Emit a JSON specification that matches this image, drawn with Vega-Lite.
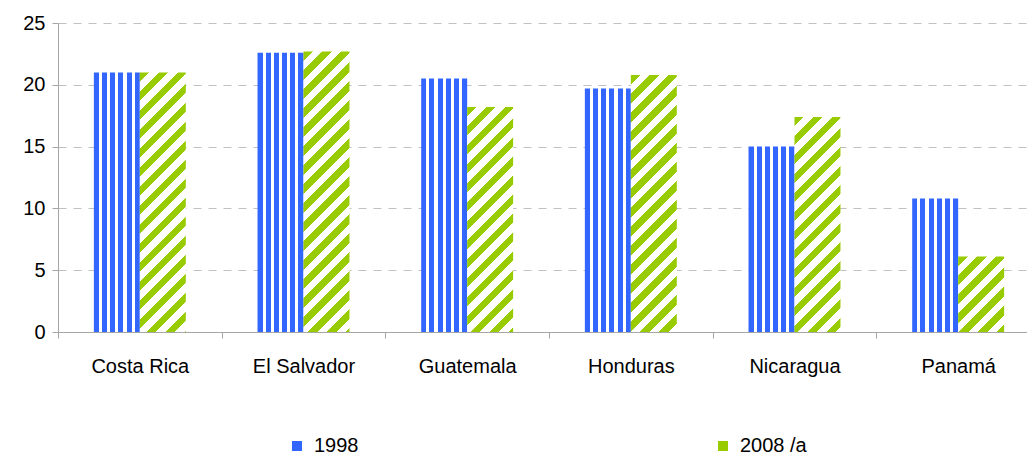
{
  "$schema": "https://vega.github.io/schema/vega-lite/v6.json",
  "width": 969,
  "height": 309,
  "autosize": {"type": "none"},
  "padding": {"left": 58, "top": 23, "right": 0, "bottom": 125},
  "background": "white",
  "config": {"view": {"stroke": null}, "font": "Liberation Sans"},
  "data": {
    "values": [
      {"country": "Costa Rica", "year": "1998", "value": 21.0},
      {"country": "Costa Rica", "year": "2008 /a", "value": 21.0},
      {"country": "El Salvador", "year": "1998", "value": 22.6},
      {"country": "El Salvador", "year": "2008 /a", "value": 22.7},
      {"country": "Guatemala", "year": "1998", "value": 20.5},
      {"country": "Guatemala", "year": "2008 /a", "value": 18.2},
      {"country": "Honduras", "year": "1998", "value": 19.7},
      {"country": "Honduras", "year": "2008 /a", "value": 20.8},
      {"country": "Nicaragua", "year": "1998", "value": 15.0},
      {"country": "Nicaragua", "year": "2008 /a", "value": 17.4},
      {"country": "Panamá", "year": "1998", "value": 10.8},
      {"country": "Panamá", "year": "2008 /a", "value": 6.1}
    ]
  },
  "mark": {"type": "bar"},
  "encoding": {
    "x": {
      "field": "country", "type": "nominal", "sort": null,
      "scale": {"range": [0, 982], "paddingInner": 0, "paddingOuter": 0},
      "axis": {"title": null, "labelAngle": 0, "tickBand": "extent", "labelFontSize": 20, "labelColor": "#000000", "labelPadding": 18, "domainColor": "#a6a6a6", "tickColor": "#a6a6a6", "tickSize": 6, "grid": false}
    },
    "xOffset": {"field": "year", "type": "nominal", "sort": ["1998", "2008 /a"], "scale": {"paddingInner": 0, "paddingOuter": 0.78}},
    "y": {
      "field": "value", "type": "quantitative",
      "scale": {"domain": [0, 25], "nice": false},
      "axis": {"title": null, "values": [0, 5, 10, 15, 20, 25], "grid": true, "gridDash": [8, 7], "gridColor": "#c0c0c0", "domainColor": "#a6a6a6", "tickColor": "#a6a6a6", "tickSize": 6, "labelFontSize": 20, "labelColor": "#000000", "labelPadding": 7}
    },
    "fill": {
      "field": "year", "type": "nominal",
      "scale": {"domain": ["1998", "2008 /a"], "range": ["#3366ff", "#99cc00"]},
      "legend": {"title": null, "orient": "none", "legendX": 229, "legendY": 413, "direction": "horizontal", "columns": 2, "columnPadding": 354, "symbolType": "square", "symbolSize": 100, "symbolStrokeWidth": 0, "labelFontSize": 20, "labelColor": "#000000", "labelOffset": 7},
      "condition": [
        {"test": "datum.year === '1998'", "value": {"gradient": "linear", "x1": 0, "y1": 0, "x2": 1, "y2": 0, "stops": [
          {"offset": 0, "color": "#3366ff"}, {"offset": 0.11, "color": "#3366ff"}, {"offset": 0.11, "color": "#ffffff"}, {"offset": 0.178, "color": "#ffffff"},
          {"offset": 0.178, "color": "#3366ff"}, {"offset": 0.288, "color": "#3366ff"}, {"offset": 0.288, "color": "#ffffff"}, {"offset": 0.356, "color": "#ffffff"},
          {"offset": 0.356, "color": "#3366ff"}, {"offset": 0.466, "color": "#3366ff"}, {"offset": 0.466, "color": "#ffffff"}, {"offset": 0.534, "color": "#ffffff"},
          {"offset": 0.534, "color": "#3366ff"}, {"offset": 0.644, "color": "#3366ff"}, {"offset": 0.644, "color": "#ffffff"}, {"offset": 0.712, "color": "#ffffff"},
          {"offset": 0.712, "color": "#3366ff"}, {"offset": 0.822, "color": "#3366ff"}, {"offset": 0.822, "color": "#ffffff"}, {"offset": 0.89, "color": "#ffffff"},
          {"offset": 0.89, "color": "#3366ff"}, {"offset": 1, "color": "#3366ff"}
        ]}},
        {"test": "datum.country === 'Costa Rica'", "value": {"gradient": "linear", "x1": 0, "y1": 0, "x2": 0.2264, "y2": 1.2775, "stops": [
          {"offset": 0, "color": "#99cc00"}, {"offset": 0.0278, "color": "#99cc00"}, {"offset": 0.0278, "color": "#ffffff"}, {"offset": 0.0556, "color": "#ffffff"},
          {"offset": 0.0556, "color": "#99cc00"}, {"offset": 0.0833, "color": "#99cc00"}, {"offset": 0.0833, "color": "#ffffff"}, {"offset": 0.1111, "color": "#ffffff"},
          {"offset": 0.1111, "color": "#99cc00"}, {"offset": 0.1389, "color": "#99cc00"}, {"offset": 0.1389, "color": "#ffffff"}, {"offset": 0.1667, "color": "#ffffff"},
          {"offset": 0.1667, "color": "#99cc00"}, {"offset": 0.1944, "color": "#99cc00"}, {"offset": 0.1944, "color": "#ffffff"}, {"offset": 0.2222, "color": "#ffffff"},
          {"offset": 0.2222, "color": "#99cc00"}, {"offset": 0.25, "color": "#99cc00"}, {"offset": 0.25, "color": "#ffffff"}, {"offset": 0.2778, "color": "#ffffff"},
          {"offset": 0.2778, "color": "#99cc00"}, {"offset": 0.3056, "color": "#99cc00"}, {"offset": 0.3056, "color": "#ffffff"}, {"offset": 0.3333, "color": "#ffffff"},
          {"offset": 0.3333, "color": "#99cc00"}, {"offset": 0.3611, "color": "#99cc00"}, {"offset": 0.3611, "color": "#ffffff"}, {"offset": 0.3889, "color": "#ffffff"},
          {"offset": 0.3889, "color": "#99cc00"}, {"offset": 0.4167, "color": "#99cc00"}, {"offset": 0.4167, "color": "#ffffff"}, {"offset": 0.4444, "color": "#ffffff"},
          {"offset": 0.4444, "color": "#99cc00"}, {"offset": 0.4722, "color": "#99cc00"}, {"offset": 0.4722, "color": "#ffffff"}, {"offset": 0.5, "color": "#ffffff"},
          {"offset": 0.5, "color": "#99cc00"}, {"offset": 0.5278, "color": "#99cc00"}, {"offset": 0.5278, "color": "#ffffff"}, {"offset": 0.5556, "color": "#ffffff"},
          {"offset": 0.5556, "color": "#99cc00"}, {"offset": 0.5833, "color": "#99cc00"}, {"offset": 0.5833, "color": "#ffffff"}, {"offset": 0.6111, "color": "#ffffff"},
          {"offset": 0.6111, "color": "#99cc00"}, {"offset": 0.6389, "color": "#99cc00"}, {"offset": 0.6389, "color": "#ffffff"}, {"offset": 0.6667, "color": "#ffffff"},
          {"offset": 0.6667, "color": "#99cc00"}, {"offset": 0.6944, "color": "#99cc00"}, {"offset": 0.6944, "color": "#ffffff"}, {"offset": 0.7222, "color": "#ffffff"},
          {"offset": 0.7222, "color": "#99cc00"}, {"offset": 0.75, "color": "#99cc00"}, {"offset": 0.75, "color": "#ffffff"}, {"offset": 0.7778, "color": "#ffffff"},
          {"offset": 0.7778, "color": "#99cc00"}, {"offset": 0.8056, "color": "#99cc00"}, {"offset": 0.8056, "color": "#ffffff"}, {"offset": 0.8333, "color": "#ffffff"},
          {"offset": 0.8333, "color": "#99cc00"}, {"offset": 0.8611, "color": "#99cc00"}, {"offset": 0.8611, "color": "#ffffff"}, {"offset": 0.8889, "color": "#ffffff"},
          {"offset": 0.8889, "color": "#99cc00"}, {"offset": 0.9167, "color": "#99cc00"}, {"offset": 0.9167, "color": "#ffffff"}, {"offset": 0.9444, "color": "#ffffff"},
          {"offset": 0.9444, "color": "#99cc00"}, {"offset": 0.9722, "color": "#99cc00"}, {"offset": 0.9722, "color": "#ffffff"}, {"offset": 1, "color": "#ffffff"}
        ]}},
        {"test": "datum.country === 'El Salvador'", "value": {"gradient": "linear", "x1": 0, "y1": 0, "x2": 0.1946, "y2": 1.1870, "stops": [
          {"offset": 0, "color": "#99cc00"}, {"offset": 0.0278, "color": "#99cc00"}, {"offset": 0.0278, "color": "#ffffff"}, {"offset": 0.0556, "color": "#ffffff"},
          {"offset": 0.0556, "color": "#99cc00"}, {"offset": 0.0833, "color": "#99cc00"}, {"offset": 0.0833, "color": "#ffffff"}, {"offset": 0.1111, "color": "#ffffff"},
          {"offset": 0.1111, "color": "#99cc00"}, {"offset": 0.1389, "color": "#99cc00"}, {"offset": 0.1389, "color": "#ffffff"}, {"offset": 0.1667, "color": "#ffffff"},
          {"offset": 0.1667, "color": "#99cc00"}, {"offset": 0.1944, "color": "#99cc00"}, {"offset": 0.1944, "color": "#ffffff"}, {"offset": 0.2222, "color": "#ffffff"},
          {"offset": 0.2222, "color": "#99cc00"}, {"offset": 0.25, "color": "#99cc00"}, {"offset": 0.25, "color": "#ffffff"}, {"offset": 0.2778, "color": "#ffffff"},
          {"offset": 0.2778, "color": "#99cc00"}, {"offset": 0.3056, "color": "#99cc00"}, {"offset": 0.3056, "color": "#ffffff"}, {"offset": 0.3333, "color": "#ffffff"},
          {"offset": 0.3333, "color": "#99cc00"}, {"offset": 0.3611, "color": "#99cc00"}, {"offset": 0.3611, "color": "#ffffff"}, {"offset": 0.3889, "color": "#ffffff"},
          {"offset": 0.3889, "color": "#99cc00"}, {"offset": 0.4167, "color": "#99cc00"}, {"offset": 0.4167, "color": "#ffffff"}, {"offset": 0.4444, "color": "#ffffff"},
          {"offset": 0.4444, "color": "#99cc00"}, {"offset": 0.4722, "color": "#99cc00"}, {"offset": 0.4722, "color": "#ffffff"}, {"offset": 0.5, "color": "#ffffff"},
          {"offset": 0.5, "color": "#99cc00"}, {"offset": 0.5278, "color": "#99cc00"}, {"offset": 0.5278, "color": "#ffffff"}, {"offset": 0.5556, "color": "#ffffff"},
          {"offset": 0.5556, "color": "#99cc00"}, {"offset": 0.5833, "color": "#99cc00"}, {"offset": 0.5833, "color": "#ffffff"}, {"offset": 0.6111, "color": "#ffffff"},
          {"offset": 0.6111, "color": "#99cc00"}, {"offset": 0.6389, "color": "#99cc00"}, {"offset": 0.6389, "color": "#ffffff"}, {"offset": 0.6667, "color": "#ffffff"},
          {"offset": 0.6667, "color": "#99cc00"}, {"offset": 0.6944, "color": "#99cc00"}, {"offset": 0.6944, "color": "#ffffff"}, {"offset": 0.7222, "color": "#ffffff"},
          {"offset": 0.7222, "color": "#99cc00"}, {"offset": 0.75, "color": "#99cc00"}, {"offset": 0.75, "color": "#ffffff"}, {"offset": 0.7778, "color": "#ffffff"},
          {"offset": 0.7778, "color": "#99cc00"}, {"offset": 0.8056, "color": "#99cc00"}, {"offset": 0.8056, "color": "#ffffff"}, {"offset": 0.8333, "color": "#ffffff"},
          {"offset": 0.8333, "color": "#99cc00"}, {"offset": 0.8611, "color": "#99cc00"}, {"offset": 0.8611, "color": "#ffffff"}, {"offset": 0.8889, "color": "#ffffff"},
          {"offset": 0.8889, "color": "#99cc00"}, {"offset": 0.9167, "color": "#99cc00"}, {"offset": 0.9167, "color": "#ffffff"}, {"offset": 0.9444, "color": "#ffffff"},
          {"offset": 0.9444, "color": "#99cc00"}, {"offset": 0.9722, "color": "#99cc00"}, {"offset": 0.9722, "color": "#ffffff"}, {"offset": 1, "color": "#ffffff"}
        ]}},
        {"test": "datum.country === 'Guatemala'", "value": {"gradient": "linear", "x1": 0, "y1": 0, "x2": 0.2984, "y2": 1.4593, "stops": [
          {"offset": 0, "color": "#99cc00"}, {"offset": 0.0278, "color": "#99cc00"}, {"offset": 0.0278, "color": "#ffffff"}, {"offset": 0.0556, "color": "#ffffff"},
          {"offset": 0.0556, "color": "#99cc00"}, {"offset": 0.0833, "color": "#99cc00"}, {"offset": 0.0833, "color": "#ffffff"}, {"offset": 0.1111, "color": "#ffffff"},
          {"offset": 0.1111, "color": "#99cc00"}, {"offset": 0.1389, "color": "#99cc00"}, {"offset": 0.1389, "color": "#ffffff"}, {"offset": 0.1667, "color": "#ffffff"},
          {"offset": 0.1667, "color": "#99cc00"}, {"offset": 0.1944, "color": "#99cc00"}, {"offset": 0.1944, "color": "#ffffff"}, {"offset": 0.2222, "color": "#ffffff"},
          {"offset": 0.2222, "color": "#99cc00"}, {"offset": 0.25, "color": "#99cc00"}, {"offset": 0.25, "color": "#ffffff"}, {"offset": 0.2778, "color": "#ffffff"},
          {"offset": 0.2778, "color": "#99cc00"}, {"offset": 0.3056, "color": "#99cc00"}, {"offset": 0.3056, "color": "#ffffff"}, {"offset": 0.3333, "color": "#ffffff"},
          {"offset": 0.3333, "color": "#99cc00"}, {"offset": 0.3611, "color": "#99cc00"}, {"offset": 0.3611, "color": "#ffffff"}, {"offset": 0.3889, "color": "#ffffff"},
          {"offset": 0.3889, "color": "#99cc00"}, {"offset": 0.4167, "color": "#99cc00"}, {"offset": 0.4167, "color": "#ffffff"}, {"offset": 0.4444, "color": "#ffffff"},
          {"offset": 0.4444, "color": "#99cc00"}, {"offset": 0.4722, "color": "#99cc00"}, {"offset": 0.4722, "color": "#ffffff"}, {"offset": 0.5, "color": "#ffffff"},
          {"offset": 0.5, "color": "#99cc00"}, {"offset": 0.5278, "color": "#99cc00"}, {"offset": 0.5278, "color": "#ffffff"}, {"offset": 0.5556, "color": "#ffffff"},
          {"offset": 0.5556, "color": "#99cc00"}, {"offset": 0.5833, "color": "#99cc00"}, {"offset": 0.5833, "color": "#ffffff"}, {"offset": 0.6111, "color": "#ffffff"},
          {"offset": 0.6111, "color": "#99cc00"}, {"offset": 0.6389, "color": "#99cc00"}, {"offset": 0.6389, "color": "#ffffff"}, {"offset": 0.6667, "color": "#ffffff"},
          {"offset": 0.6667, "color": "#99cc00"}, {"offset": 0.6944, "color": "#99cc00"}, {"offset": 0.6944, "color": "#ffffff"}, {"offset": 0.7222, "color": "#ffffff"},
          {"offset": 0.7222, "color": "#99cc00"}, {"offset": 0.75, "color": "#99cc00"}, {"offset": 0.75, "color": "#ffffff"}, {"offset": 0.7778, "color": "#ffffff"},
          {"offset": 0.7778, "color": "#99cc00"}, {"offset": 0.8056, "color": "#99cc00"}, {"offset": 0.8056, "color": "#ffffff"}, {"offset": 0.8333, "color": "#ffffff"},
          {"offset": 0.8333, "color": "#99cc00"}, {"offset": 0.8611, "color": "#99cc00"}, {"offset": 0.8611, "color": "#ffffff"}, {"offset": 0.8889, "color": "#ffffff"},
          {"offset": 0.8889, "color": "#99cc00"}, {"offset": 0.9167, "color": "#99cc00"}, {"offset": 0.9167, "color": "#ffffff"}, {"offset": 0.9444, "color": "#ffffff"},
          {"offset": 0.9444, "color": "#99cc00"}, {"offset": 0.9722, "color": "#99cc00"}, {"offset": 0.9722, "color": "#ffffff"}, {"offset": 1, "color": "#ffffff"}
        ]}},
        {"test": "datum.country === 'Honduras'", "value": {"gradient": "linear", "x1": 0, "y1": 0, "x2": 0.2306, "y2": 1.2890, "stops": [
          {"offset": 0, "color": "#99cc00"}, {"offset": 0.0278, "color": "#99cc00"}, {"offset": 0.0278, "color": "#ffffff"}, {"offset": 0.0556, "color": "#ffffff"},
          {"offset": 0.0556, "color": "#99cc00"}, {"offset": 0.0833, "color": "#99cc00"}, {"offset": 0.0833, "color": "#ffffff"}, {"offset": 0.1111, "color": "#ffffff"},
          {"offset": 0.1111, "color": "#99cc00"}, {"offset": 0.1389, "color": "#99cc00"}, {"offset": 0.1389, "color": "#ffffff"}, {"offset": 0.1667, "color": "#ffffff"},
          {"offset": 0.1667, "color": "#99cc00"}, {"offset": 0.1944, "color": "#99cc00"}, {"offset": 0.1944, "color": "#ffffff"}, {"offset": 0.2222, "color": "#ffffff"},
          {"offset": 0.2222, "color": "#99cc00"}, {"offset": 0.25, "color": "#99cc00"}, {"offset": 0.25, "color": "#ffffff"}, {"offset": 0.2778, "color": "#ffffff"},
          {"offset": 0.2778, "color": "#99cc00"}, {"offset": 0.3056, "color": "#99cc00"}, {"offset": 0.3056, "color": "#ffffff"}, {"offset": 0.3333, "color": "#ffffff"},
          {"offset": 0.3333, "color": "#99cc00"}, {"offset": 0.3611, "color": "#99cc00"}, {"offset": 0.3611, "color": "#ffffff"}, {"offset": 0.3889, "color": "#ffffff"},
          {"offset": 0.3889, "color": "#99cc00"}, {"offset": 0.4167, "color": "#99cc00"}, {"offset": 0.4167, "color": "#ffffff"}, {"offset": 0.4444, "color": "#ffffff"},
          {"offset": 0.4444, "color": "#99cc00"}, {"offset": 0.4722, "color": "#99cc00"}, {"offset": 0.4722, "color": "#ffffff"}, {"offset": 0.5, "color": "#ffffff"},
          {"offset": 0.5, "color": "#99cc00"}, {"offset": 0.5278, "color": "#99cc00"}, {"offset": 0.5278, "color": "#ffffff"}, {"offset": 0.5556, "color": "#ffffff"},
          {"offset": 0.5556, "color": "#99cc00"}, {"offset": 0.5833, "color": "#99cc00"}, {"offset": 0.5833, "color": "#ffffff"}, {"offset": 0.6111, "color": "#ffffff"},
          {"offset": 0.6111, "color": "#99cc00"}, {"offset": 0.6389, "color": "#99cc00"}, {"offset": 0.6389, "color": "#ffffff"}, {"offset": 0.6667, "color": "#ffffff"},
          {"offset": 0.6667, "color": "#99cc00"}, {"offset": 0.6944, "color": "#99cc00"}, {"offset": 0.6944, "color": "#ffffff"}, {"offset": 0.7222, "color": "#ffffff"},
          {"offset": 0.7222, "color": "#99cc00"}, {"offset": 0.75, "color": "#99cc00"}, {"offset": 0.75, "color": "#ffffff"}, {"offset": 0.7778, "color": "#ffffff"},
          {"offset": 0.7778, "color": "#99cc00"}, {"offset": 0.8056, "color": "#99cc00"}, {"offset": 0.8056, "color": "#ffffff"}, {"offset": 0.8333, "color": "#ffffff"},
          {"offset": 0.8333, "color": "#99cc00"}, {"offset": 0.8611, "color": "#99cc00"}, {"offset": 0.8611, "color": "#ffffff"}, {"offset": 0.8889, "color": "#ffffff"},
          {"offset": 0.8889, "color": "#99cc00"}, {"offset": 0.9167, "color": "#99cc00"}, {"offset": 0.9167, "color": "#ffffff"}, {"offset": 0.9444, "color": "#ffffff"},
          {"offset": 0.9444, "color": "#99cc00"}, {"offset": 0.9722, "color": "#99cc00"}, {"offset": 0.9722, "color": "#ffffff"}, {"offset": 1, "color": "#ffffff"}
        ]}},
        {"test": "datum.country === 'Nicaragua'", "value": {"gradient": "linear", "x1": 0, "y1": 0, "x2": 0.3253, "y2": 1.5207, "stops": [
          {"offset": 0, "color": "#99cc00"}, {"offset": 0.0278, "color": "#99cc00"}, {"offset": 0.0278, "color": "#ffffff"}, {"offset": 0.0556, "color": "#ffffff"},
          {"offset": 0.0556, "color": "#99cc00"}, {"offset": 0.0833, "color": "#99cc00"}, {"offset": 0.0833, "color": "#ffffff"}, {"offset": 0.1111, "color": "#ffffff"},
          {"offset": 0.1111, "color": "#99cc00"}, {"offset": 0.1389, "color": "#99cc00"}, {"offset": 0.1389, "color": "#ffffff"}, {"offset": 0.1667, "color": "#ffffff"},
          {"offset": 0.1667, "color": "#99cc00"}, {"offset": 0.1944, "color": "#99cc00"}, {"offset": 0.1944, "color": "#ffffff"}, {"offset": 0.2222, "color": "#ffffff"},
          {"offset": 0.2222, "color": "#99cc00"}, {"offset": 0.25, "color": "#99cc00"}, {"offset": 0.25, "color": "#ffffff"}, {"offset": 0.2778, "color": "#ffffff"},
          {"offset": 0.2778, "color": "#99cc00"}, {"offset": 0.3056, "color": "#99cc00"}, {"offset": 0.3056, "color": "#ffffff"}, {"offset": 0.3333, "color": "#ffffff"},
          {"offset": 0.3333, "color": "#99cc00"}, {"offset": 0.3611, "color": "#99cc00"}, {"offset": 0.3611, "color": "#ffffff"}, {"offset": 0.3889, "color": "#ffffff"},
          {"offset": 0.3889, "color": "#99cc00"}, {"offset": 0.4167, "color": "#99cc00"}, {"offset": 0.4167, "color": "#ffffff"}, {"offset": 0.4444, "color": "#ffffff"},
          {"offset": 0.4444, "color": "#99cc00"}, {"offset": 0.4722, "color": "#99cc00"}, {"offset": 0.4722, "color": "#ffffff"}, {"offset": 0.5, "color": "#ffffff"},
          {"offset": 0.5, "color": "#99cc00"}, {"offset": 0.5278, "color": "#99cc00"}, {"offset": 0.5278, "color": "#ffffff"}, {"offset": 0.5556, "color": "#ffffff"},
          {"offset": 0.5556, "color": "#99cc00"}, {"offset": 0.5833, "color": "#99cc00"}, {"offset": 0.5833, "color": "#ffffff"}, {"offset": 0.6111, "color": "#ffffff"},
          {"offset": 0.6111, "color": "#99cc00"}, {"offset": 0.6389, "color": "#99cc00"}, {"offset": 0.6389, "color": "#ffffff"}, {"offset": 0.6667, "color": "#ffffff"},
          {"offset": 0.6667, "color": "#99cc00"}, {"offset": 0.6944, "color": "#99cc00"}, {"offset": 0.6944, "color": "#ffffff"}, {"offset": 0.7222, "color": "#ffffff"},
          {"offset": 0.7222, "color": "#99cc00"}, {"offset": 0.75, "color": "#99cc00"}, {"offset": 0.75, "color": "#ffffff"}, {"offset": 0.7778, "color": "#ffffff"},
          {"offset": 0.7778, "color": "#99cc00"}, {"offset": 0.8056, "color": "#99cc00"}, {"offset": 0.8056, "color": "#ffffff"}, {"offset": 0.8333, "color": "#ffffff"},
          {"offset": 0.8333, "color": "#99cc00"}, {"offset": 0.8611, "color": "#99cc00"}, {"offset": 0.8611, "color": "#ffffff"}, {"offset": 0.8889, "color": "#ffffff"},
          {"offset": 0.8889, "color": "#99cc00"}, {"offset": 0.9167, "color": "#99cc00"}, {"offset": 0.9167, "color": "#ffffff"}, {"offset": 0.9444, "color": "#ffffff"},
          {"offset": 0.9444, "color": "#99cc00"}, {"offset": 0.9722, "color": "#99cc00"}, {"offset": 0.9722, "color": "#ffffff"}, {"offset": 1, "color": "#ffffff"}
        ]}},
        {"test": "datum.country === 'Panamá'", "value": {"gradient": "linear", "x1": 0, "y1": 0, "x2": 2.0166, "y2": 3.3055, "stops": [
          {"offset": 0, "color": "#99cc00"}, {"offset": 0.0278, "color": "#99cc00"}, {"offset": 0.0278, "color": "#ffffff"}, {"offset": 0.0556, "color": "#ffffff"},
          {"offset": 0.0556, "color": "#99cc00"}, {"offset": 0.0833, "color": "#99cc00"}, {"offset": 0.0833, "color": "#ffffff"}, {"offset": 0.1111, "color": "#ffffff"},
          {"offset": 0.1111, "color": "#99cc00"}, {"offset": 0.1389, "color": "#99cc00"}, {"offset": 0.1389, "color": "#ffffff"}, {"offset": 0.1667, "color": "#ffffff"},
          {"offset": 0.1667, "color": "#99cc00"}, {"offset": 0.1944, "color": "#99cc00"}, {"offset": 0.1944, "color": "#ffffff"}, {"offset": 0.2222, "color": "#ffffff"},
          {"offset": 0.2222, "color": "#99cc00"}, {"offset": 0.25, "color": "#99cc00"}, {"offset": 0.25, "color": "#ffffff"}, {"offset": 0.2778, "color": "#ffffff"},
          {"offset": 0.2778, "color": "#99cc00"}, {"offset": 0.3056, "color": "#99cc00"}, {"offset": 0.3056, "color": "#ffffff"}, {"offset": 0.3333, "color": "#ffffff"},
          {"offset": 0.3333, "color": "#99cc00"}, {"offset": 0.3611, "color": "#99cc00"}, {"offset": 0.3611, "color": "#ffffff"}, {"offset": 0.3889, "color": "#ffffff"},
          {"offset": 0.3889, "color": "#99cc00"}, {"offset": 0.4167, "color": "#99cc00"}, {"offset": 0.4167, "color": "#ffffff"}, {"offset": 0.4444, "color": "#ffffff"},
          {"offset": 0.4444, "color": "#99cc00"}, {"offset": 0.4722, "color": "#99cc00"}, {"offset": 0.4722, "color": "#ffffff"}, {"offset": 0.5, "color": "#ffffff"},
          {"offset": 0.5, "color": "#99cc00"}, {"offset": 0.5278, "color": "#99cc00"}, {"offset": 0.5278, "color": "#ffffff"}, {"offset": 0.5556, "color": "#ffffff"},
          {"offset": 0.5556, "color": "#99cc00"}, {"offset": 0.5833, "color": "#99cc00"}, {"offset": 0.5833, "color": "#ffffff"}, {"offset": 0.6111, "color": "#ffffff"},
          {"offset": 0.6111, "color": "#99cc00"}, {"offset": 0.6389, "color": "#99cc00"}, {"offset": 0.6389, "color": "#ffffff"}, {"offset": 0.6667, "color": "#ffffff"},
          {"offset": 0.6667, "color": "#99cc00"}, {"offset": 0.6944, "color": "#99cc00"}, {"offset": 0.6944, "color": "#ffffff"}, {"offset": 0.7222, "color": "#ffffff"},
          {"offset": 0.7222, "color": "#99cc00"}, {"offset": 0.75, "color": "#99cc00"}, {"offset": 0.75, "color": "#ffffff"}, {"offset": 0.7778, "color": "#ffffff"},
          {"offset": 0.7778, "color": "#99cc00"}, {"offset": 0.8056, "color": "#99cc00"}, {"offset": 0.8056, "color": "#ffffff"}, {"offset": 0.8333, "color": "#ffffff"},
          {"offset": 0.8333, "color": "#99cc00"}, {"offset": 0.8611, "color": "#99cc00"}, {"offset": 0.8611, "color": "#ffffff"}, {"offset": 0.8889, "color": "#ffffff"},
          {"offset": 0.8889, "color": "#99cc00"}, {"offset": 0.9167, "color": "#99cc00"}, {"offset": 0.9167, "color": "#ffffff"}, {"offset": 0.9444, "color": "#ffffff"},
          {"offset": 0.9444, "color": "#99cc00"}, {"offset": 0.9722, "color": "#99cc00"}, {"offset": 0.9722, "color": "#ffffff"}, {"offset": 1, "color": "#ffffff"}
        ]}}
      ]
    }
  }
}
